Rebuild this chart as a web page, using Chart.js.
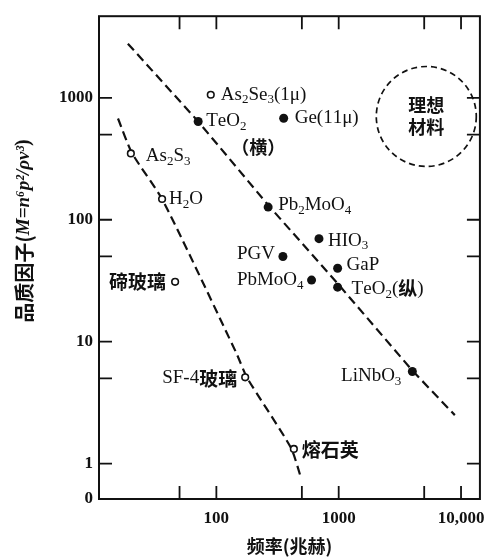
<!DOCTYPE html>
<html><head><meta charset="utf-8">
<script src="https://cdn.jsdelivr.net/npm/chart.js@4/dist/chart.umd.min.js"></script>
<style>html,body{margin:0;padding:0;background:#fff}#wrap{width:494px;height:560px;position:relative}</style>
</head><body><div id="wrap"><canvas id="c"></canvas></div>
<script>
// ---- data ----
const filledNames = ['TeO_2', 'Ge(11μ)', 'Pb_2MoO_4', 'HIO_3', 'PGV', 'GaP', 'PbMoO_4', 'TeO_2(纵)', 'LiNbO_3'];
const filledX = [71, 355, 265, 690, 350, 980, 600, 980, 4000];
const filledY = [640, 680, 127, 70, 50, 40, 32, 28, 5.7];
const openNames = ['As_2Se_3(1μ)', 'As_2S_3', 'H_2O', '碲玻璃', 'SF-4玻璃', '熔石英'];
const openX = [90, 20, 36, 46, 172, 430];
const openY = [1060, 350, 148, 31, 5.1, 1.32];
const line1X = [18.9, 71, 265, 980, 4000, 8900];
const line1Y = [2780, 640, 132, 30, 5.8, 2.5];
const line2X = [15.7, 20.4, 36.4, 145, 179, 407, 491];
const line2Y = [677, 353, 145, 8.15, 5.03, 1.35, 0.77];
const xTickValues = [50, 100, 500, 1000, 5000, 10000];
const xTickLabels = ['', '100', '', '1000', '', '10,000'];
const yTickValues = [0.513, 1, 5, 10, 50, 100, 500, 1000];
const yTickLabels = ['0', '1', '', '10', '', '100', '', '1000'];
const idealText = ['理想', '材料'];
const idealX = 5200, idealY = 703;
const teo2Note = '（横）';
const yTitleParts = ['品质因子(', 'M=n⁶p²/ρv³', ')'];
const xTitle = '频率(兆赫)';

// ---- label placement (style) ----
const filledPlace = [[8,0,'left'],[11,0,'left'],[10,-2,'left'],[9,2,'left'],[-8,-2,'right'],[9,-3,'left'],[-8,0,'right'],[14,2,'left'],[-11,5,'right']];
const openPlace = [[10,0,'left'],[15,3,'left'],[7,0,'left'],[-9,0,'right'],[-8,1,'right'],[8,1,'left']];

const INK = '#111';
const SERIF = "'Liberation Serif', 'DejaVu Serif', serif";
const CJK = "'Noto Sans CJK SC'";

function drawRich(ctx, text, x, y, align, size) {
  const segs = [];
  for (let i = 0; i < text.length; i++) {
    let ch = text[i], sub = false;
    if (ch === '_') { sub = true; ch = text[++i]; }
    const cjk = /[\u3000-\u9fff\uff00-\uffef]/.test(ch);
    const font = sub ? Math.round(size * 0.68) + 'px ' + SERIF
      : cjk ? 'bold ' + size + 'px ' + CJK : size + 'px ' + SERIF;
    segs.push({ ch, font, dy: sub ? size * 0.28 : 0 });
  }
  let w = 0;
  segs.forEach(s => { ctx.font = s.font; s.w = ctx.measureText(s.ch).width; w += s.w; });
  let cx = align === 'right' ? x - w : align === 'center' ? x - w / 2 : x;
  ctx.textBaseline = 'middle'; ctx.textAlign = 'left'; ctx.fillStyle = INK;
  segs.forEach(s => { ctx.font = s.font; ctx.fillText(s.ch, cx, y + s.dy); cx += s.w; });
}

const decor = {
  id: 'decor',
  afterDatasetsDraw(chart) {
    const ctx = chart.ctx, a = chart.chartArea, xs = chart.scales.x, ys = chart.scales.y;
    ctx.save();
    ctx.strokeStyle = INK;
    // frame
    ctx.lineWidth = 2;
    ctx.strokeRect(a.left, a.top, a.right - a.left, a.bottom - a.top);
    // inward ticks
    ctx.lineWidth = 1.8;
    ctx.beginPath();
    xTickValues.forEach(v => {
      const p = xs.getPixelForValue(v);
      ctx.moveTo(p, a.bottom); ctx.lineTo(p, a.bottom - 13);
      ctx.moveTo(p, a.top); ctx.lineTo(p, a.top + 13);
    });
    yTickValues.forEach((v, i) => {
      if (i === 0) return;
      const p = ys.getPixelForValue(v);
      ctx.moveTo(a.left, p); ctx.lineTo(a.left + 13, p);
      ctx.moveTo(a.right, p); ctx.lineTo(a.right - 13, p);
    });
    ctx.stroke();
    // point labels
    const m0 = chart.getDatasetMeta(2), m1 = chart.getDatasetMeta(3);
    m0.data.forEach((pt, i) => {
      const pl = filledPlace[i];
      drawRich(ctx, filledNames[i], pt.x + pl[0], pt.y + pl[1], pl[2], 19);
      if (i === 0) drawRich(ctx, teo2Note, pt.x + 33, pt.y + 26, 'left', 18);
    });
    m1.data.forEach((pt, i) => {
      const pl = openPlace[i];
      drawRich(ctx, openNames[i], pt.x + pl[0], pt.y + pl[1], pl[2], 19);
    });
    // ideal material circle
    const cx = xs.getPixelForValue(idealX), cy = ys.getPixelForValue(idealY);
    ctx.setLineDash([6, 4]); ctx.lineWidth = 1.7;
    ctx.beginPath(); ctx.arc(cx, cy, 50, 0, Math.PI * 2); ctx.stroke();
    ctx.setLineDash([]);
    drawRich(ctx, idealText[0], cx, cy - 11, 'center', 18);
    drawRich(ctx, idealText[1], cx, cy + 11, 'center', 18);
    // y axis title (rotated, mixed fonts)
    ctx.save();
    ctx.translate(24, 231);
    ctx.rotate(-Math.PI / 2);
    const fonts = ['bold 20px ' + CJK, 'italic bold 19px ' + SERIF, 'bold 20px ' + SERIF];
    let tw = 0; const ws = [];
    yTitleParts.forEach((t, i) => { ctx.font = fonts[i]; ws[i] = ctx.measureText(t).width; tw += ws[i]; });
    let px = -tw / 2;
    ctx.textBaseline = 'middle'; ctx.textAlign = 'left'; ctx.fillStyle = INK;
    yTitleParts.forEach((t, i) => { ctx.font = fonts[i]; ctx.fillText(t, px, 0); px += ws[i]; });
    ctx.restore();
    // x axis title
    ctx.font = 'bold 18px ' + CJK; ctx.textAlign = 'center'; ctx.textBaseline = 'middle'; ctx.fillStyle = INK;
    ctx.fillText(xTitle, (a.left + a.right) / 2, 546);
    ctx.restore();
  }
};

const toXY = (xa, ya) => xa.map((x, i) => ({ x, y: ya[i] }));

new Chart(document.getElementById('c'), {
  type: 'scatter',
  data: {
    datasets: [
      { data: toXY(line1X, line1Y), showLine: true, borderColor: INK, borderWidth: 2.2, borderDash: [9, 5], pointRadius: 0, order: 2 },
      { data: toXY(line2X, line2Y), showLine: true, borderColor: INK, borderWidth: 2.2, borderDash: [9, 5], pointRadius: 0, tension: 0.2, order: 2 },
      { data: toXY(filledX, filledY), pointRadius: 4.5, backgroundColor: INK, borderColor: INK, borderWidth: 0, order: 1 },
      { data: toXY(openX, openY), pointRadius: 3.3, backgroundColor: '#fff', borderColor: INK, borderWidth: 1.6, order: 1 }
    ]
  },
  options: {
    responsive: true, maintainAspectRatio: false, animation: false,
    layout: { padding: { top: 8, right: 12, left: 0, bottom: 0 } },
    plugins: { legend: { display: false }, tooltip: { enabled: false } },
    scales: {
      x: {
        type: 'logarithmic', min: 10.98, max: 14270,
        grid: { display: false, drawTicks: false }, border: { display: false },
        afterBuildTicks: s => { s.ticks = xTickValues.map(v => ({ value: v })); },
        afterFit: s => { s.height = 61; },
        ticks: { autoSkip: false, maxRotation: 0, padding: 9, color: INK,
          font: { family: SERIF, size: 17, weight: 'bold' },
          callback: (v, i) => xTickLabels[i] },
        title: { display: false }
      },
      y: {
        type: 'logarithmic', min: 0.513, max: 4670,
        grid: { display: false, drawTicks: false }, border: { display: false },
        afterBuildTicks: s => { s.ticks = yTickValues.map(v => ({ value: v })); },
        afterFit: s => { s.width = 99; },
        ticks: { autoSkip: false, padding: 6, color: INK,
          font: { family: SERIF, size: 17, weight: 'bold' },
          callback: (v, i) => yTickLabels[i] },
        title: { display: false }
      }
    }
  },
  plugins: [decor]
});
</script>
</body></html>
